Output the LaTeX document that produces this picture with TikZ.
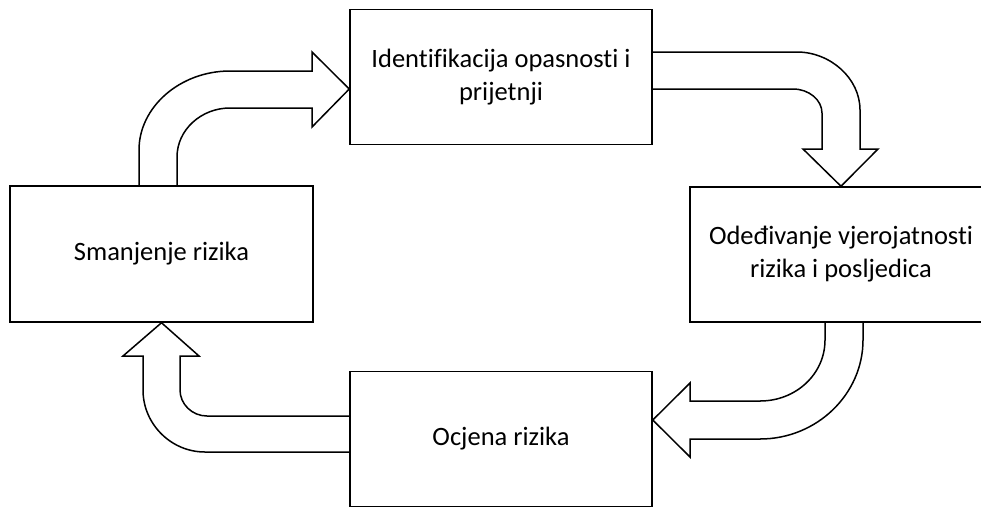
\documentclass[tikz,border=0pt]{standalone}
\usepackage{fontspec}
\setmainfont{Carlito}[Ligatures=NoCommon]
\usetikzlibrary{calc}

\begin{document}
\begin{tikzpicture}[x=1pt, y=-1pt,
    box/.style={draw, line width=1.5pt, minimum width=302pt, minimum height=135pt, inner sep=0pt, align=center, font=\fontsize{26.5}{33}\selectfont},
    bigarrow/.style={draw, line width=1.5pt, line join=miter}]
            \clip (0,0) rectangle (981,507);
            % the four steps of the cycle
            \node[box] (ident) at (501,77) {Identifikacija opasnosti i\\prijetnji};
            \node[box] (odj) at (841,254.5) {Odeđivanje vjerojatnosti\\rizika i posljedica};
            \node[box] (ocj) at (501,439) {Ocjena rizika};
            \node[box, minimum width=303pt, minimum height=136pt] (smanj) at (161.5,254) {Smanjenje rizika};

            % bent block arrows between the steps
            \draw[bigarrow] (139,186) -- (139,150) .. controls (139,107) and (180,71) .. (230,71) -- (312,71) -- (312,52)
                -- ($(ident.west)+(0,12)$) -- (312,127) -- (312,108) -- (230,108) .. controls (201,108) and (177,130) .. (177,157) -- (177,186);
            \draw[bigarrow] (652,52) -- (797,52) .. controls (830,52) and (860,78) .. (860,110) -- (860,149) -- (878,149)
                -- (odj.north) -- (803,149) -- (822,149) -- (822,113) .. controls (822,100) and (809,89) .. (793,89) -- (652,89);
            \draw[bigarrow] (825,322) -- (825,340) .. controls (825,374) and (796,401) .. (760,401) -- (690,401) -- (690,383)
                -- ($(ocj.east)+(0,-19)$) -- (690,457) -- (690,439) -- (760,439) .. controls (817,439) and (863,394) .. (863,340) -- (863,322);
            \draw[bigarrow] (350,416) -- (207,416) .. controls (192,416) and (180,404) .. (180,390) -- (180,356) -- (199,356)
                -- (smanj.south) -- (123,356) -- (143,356) -- (143,390) .. controls (143,424) and (171,452) .. (205,452) -- (350,452);
\end{tikzpicture}
\end{document}
